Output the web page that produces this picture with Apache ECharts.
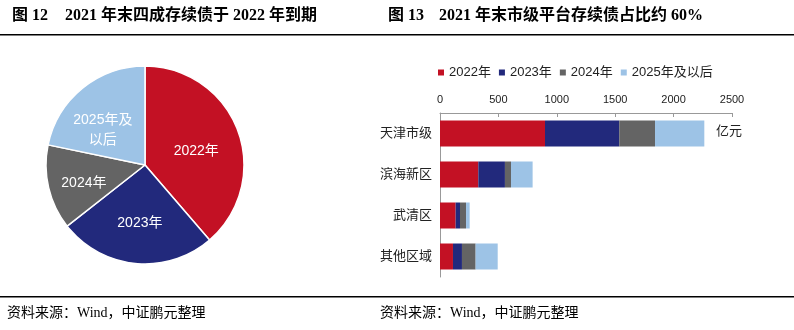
<!DOCTYPE html>
<html><head><meta charset="utf-8">
<script src="https://cdn.jsdelivr.net/npm/echarts@6/dist/echarts.min.js"></script>
<style>html,body{margin:0;padding:0;background:#fff}#c{width:794px;height:330px}</style>
</head><body><div id="c"></div>
<script>
// Data
var regions = ['天津市级', '滨海新区', '武清区', '其他区域'];
var seriesNames = ['2022年', '2023年', '2024年', '2025年及以后'];
var v2022 = [899, 328, 134, 111];
var v2023 = [636, 228, 37, 77];
var v2024 = [306, 52, 52, 117];
var v2025 = [422, 185, 31, 189];
var pieLabels = ['2022年', '2023年', '2024年', '2025年及\n以后'];
var xTicks = [0, 500, 1000, 1500, 2000, 2500];

var colors = ['#C31124', '#22297C', '#646464', '#9DC3E6'];
var labelOffsets = [[2,4],[0,6],[-10,6],[-9,6]];
var barSeriesData = [v2022, v2023, v2024, v2025];
function sum(a){return a.reduce(function(s,x){return s+x;},0);}
var pieData = seriesNames.map(function(n,i){
  return {name:n, value:sum(barSeriesData[i]), label:{formatter:pieLabels[i], offset:labelOffsets[i]}};
});

var FONT = "'Liberation Sans','Noto Sans CJK SC',sans-serif";
var TFONT = "'Liberation Serif','Noto Sans CJK SC',serif";
var chart = echarts.init(document.getElementById('c'), null, {renderer:'canvas'});

var series = barSeriesData.map(function(d,i){
  return {name:seriesNames[i], type:'bar', stack:'s', barWidth:26, data:d,
    itemStyle:{color:colors[i]}, xAxisIndex:0, yAxisIndex:0, animation:false};
});
series.push({
  type:'pie', center:[145,165], radius:[0,99], startAngle:90, clockwise:true,
  data:pieData, animation:false, color:colors,
  itemStyle:{borderColor:'#fff', borderWidth:1.5},
  label:{show:true, position:'inside', color:'#fff', fontSize:14, fontFamily:FONT, lineHeight:20},
  labelLine:{show:false}
});

chart.setOption({
  animation:false,
  textStyle:{fontFamily:FONT},
  legend:{data:seriesNames, left:433, top:61, itemWidth:6, itemHeight:6, icon:'rect', itemGap:8,
    textStyle:{fontSize:13, color:'#222', fontFamily:FONT}},
  grid:{left:440, top:113, width:292, height:164, containLabel:false},
  xAxis:{type:'value', position:'top', min:0, max:2500, interval:500,
    axisLine:{show:true, lineStyle:{color:'#999', width:1}},
    axisTick:{show:true, inside:true, length:4, lineStyle:{color:'#999'}},
    splitLine:{show:false},
    axisLabel:{fontSize:11, color:'#222', margin:8, fontFamily:FONT,
      formatter:function(v){return xTicks.indexOf(v)>=0?String(v):'';}}},
  yAxis:{type:'category', data:regions, inverse:true,
    axisLine:{show:true, lineStyle:{color:'#999', width:1}},
    axisTick:{show:false},
    axisLabel:{fontSize:13, color:'#222', margin:8, fontFamily:FONT}},
  graphic:[
    {type:'text', left:12, top:8, style:{text:'图 12', font:'bold 16px '+TFONT, fill:'#000'}},
    {type:'text', left:65, top:8, style:{text:'2021 年末四成存续债于 2022 年到期', font:'bold 16px '+TFONT, fill:'#000'}},
    {type:'text', left:388, top:8, style:{text:'图 13', font:'bold 16px '+TFONT, fill:'#000'}},
    {type:'text', left:439, top:8, style:{text:'2021 年末市级平台存续债占比约 60%', font:'bold 16px '+TFONT, fill:'#000'}},
    {type:'rect', shape:{x:0, y:34, width:794, height:1.5}, style:{fill:'#000'}},
    {type:'rect', shape:{x:0, y:296, width:794, height:1.5}, style:{fill:'#000'}},
    {type:'text', left:716, top:125, style:{text:'亿元', font:'13px '+FONT, fill:'#222'}},
    {type:'text', left:7, top:306, style:{text:'资料来源：Wind，中证鹏元整理', font:'14px '+TFONT, fill:'#000'}},
    {type:'text', left:380, top:306, style:{text:'资料来源：Wind，中证鹏元整理', font:'14px '+TFONT, fill:'#000'}}
  ],
  series:series
});
</script></body></html>
